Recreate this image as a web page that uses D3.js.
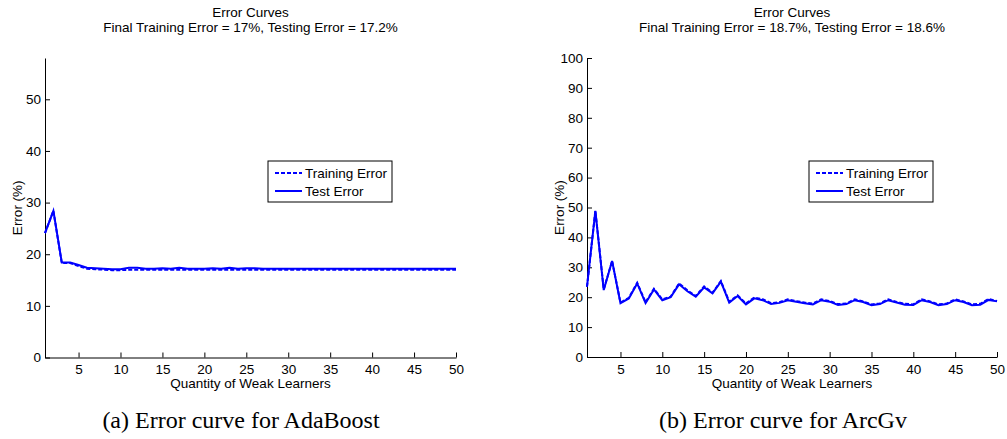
<!DOCTYPE html>
<html>
<head>
<meta charset="utf-8">
<script src="https://cdn.jsdelivr.net/npm/d3@7"></script>
<style>
  body { margin: 0; background: #fff; }
  svg text { font-family: "Liberation Sans", Arial, sans-serif; }
</style>
</head>
<body>
<div class="canvas"></div>
<script>
// weak learner counts 1..50
const learners = d3.range(1, 51);

// AdaBoost curves
const adaTrain = [
  24.1, 28.4, 18.3, 18.3, 17.7, 17.2, 17.1, 17.0, 16.9, 16.9,
  17.0, 17.0, 17.0, 17.0, 17.0, 17.0, 17.0, 17.0, 17.0, 17.0,
  17.0, 17.0, 17.0, 17.0, 17.0, 17.0, 17.0, 17.0, 17.0, 17.0,
  17.0, 17.0, 17.0, 17.0, 17.0, 17.0, 17.0, 17.0, 17.0, 17.0,
  17.0, 17.0, 17.0, 17.0, 17.0, 17.0, 17.0, 17.0, 17.0, 17.0
];
const adaTest = [
  24.1, 28.4, 18.4, 18.4, 17.9, 17.4, 17.3, 17.2, 17.1, 17.1,
  17.4, 17.4, 17.2, 17.2, 17.3, 17.2, 17.4, 17.2, 17.2, 17.2,
  17.3, 17.2, 17.4, 17.2, 17.3, 17.3, 17.2, 17.2, 17.2, 17.2,
  17.2, 17.2, 17.2, 17.2, 17.2, 17.2, 17.2, 17.2, 17.2, 17.2,
  17.2, 17.2, 17.2, 17.2, 17.2, 17.2, 17.2, 17.2, 17.2, 17.2
];

// ArcGv curves
const arcTrain = [
  23.5, 48.9, 22.6, 32.1, 18.2, 19.8, 24.8, 18.3, 22.8, 19.3,
  20.2, 24.6, 22.3, 20.4, 23.6, 21.5, 25.4, 18.5, 20.6, 17.9,
  19.9, 19.3, 18.0, 18.3, 19.3, 18.7, 18.2, 17.9, 19.3, 18.7,
  17.7, 17.9, 19.3, 18.6, 17.6, 17.9, 19.3, 18.4, 17.8, 17.6,
  19.3, 18.6, 17.6, 17.9, 19.3, 18.6, 17.6, 17.8, 19.4, 18.7
];
const arcTest = [
  23.5, 48.9, 22.4, 32.1, 18.0, 19.6, 24.6, 18.0, 22.6, 19.0,
  20.0, 24.3, 22.0, 20.2, 23.3, 21.3, 25.2, 18.2, 20.4, 17.6,
  19.6, 19.0, 17.7, 18.1, 19.0, 18.5, 18.0, 17.6, 19.0, 18.5,
  17.4, 17.7, 19.0, 18.4, 17.3, 17.7, 19.0, 18.2, 17.5, 17.4,
  19.0, 18.4, 17.3, 17.7, 19.0, 18.4, 17.3, 17.5, 19.1, 18.6
];

const xTicks = [5, 10, 15, 20, 25, 30, 35, 40, 45, 50];
const adaYTicks = [0, 10, 20, 30, 40, 50];
const arcYTicks = [0, 10, 20, 30, 40, 50, 60, 70, 80, 90, 100];
const seriesNames = ["Training Error", "Test Error"];

const panels = [
  {
    left: 45, right: 456, top: 58, bottom: 357.5, yMax: 58,
    yTicks: adaYTicks, train: adaTrain, test: adaTest,
    subtitle: "Final Training Error = 17%, Testing Error = 17.2%",
    caption: "(a) Error curve for AdaBoost",
    legend: { x: 268, y: 161 }, captionX: 241
  },
  {
    left: 587, right: 997, top: 58, bottom: 357, yMax: 100,
    yTicks: arcYTicks, train: arcTrain, test: arcTest,
    subtitle: "Final Training Error = 18.7%, Testing Error = 18.6%",
    caption: "(b) Error curve for ArcGv",
    legend: { x: 809, y: 161 }, captionX: 783
  }
];

const svg = d3
  .select(".canvas")
  .append("svg")
  .attr("width", 1007)
  .attr("height", 439);

const blue = "#0000ff";
const fs = 13.5;

const drawPanel = (p) => {
  const x = d3.scaleLinear().domain([1, 50]).range([p.left, p.right]);
  const y = d3.scaleLinear().domain([0, p.yMax]).range([p.bottom, p.top]);
  const g = svg.append("g");
  const cx = (p.left + p.right) / 2;

  // titles
  g.append("text")
    .attr("x", cx).attr("y", 17)
    .attr("text-anchor", "middle").attr("font-size", fs)
    .text("Error Curves");
  g.append("text")
    .attr("x", cx).attr("y", 32)
    .attr("text-anchor", "middle").attr("font-size", fs)
    .text(p.subtitle);

  // axes, ticks point inward like matlab
  const xAxis = g.append("g")
    .attr("transform", `translate(0,${p.bottom})`)
    .call(d3.axisBottom(x).tickValues(xTicks).tickSizeInner(-5).tickSizeOuter(0).tickPadding(7));
  const yAxis = g.append("g")
    .attr("transform", `translate(${p.left},0)`)
    .call(d3.axisLeft(y).tickValues(p.yTicks).tickSizeInner(-5).tickSizeOuter(0).tickPadding(9));
  [xAxis, yAxis].forEach((a) => {
    a.attr("font-size", fs).attr("font-family", null);
    a.select(".domain").attr("stroke", "#000");
    a.selectAll(".tick line").attr("stroke", "#000");
    a.selectAll("text").attr("fill", "#000");
  });
  yAxis.selectAll(".tick text").attr("x", -4);

  g.append("text")
    .attr("x", cx).attr("y", 388)
    .attr("text-anchor", "middle").attr("font-size", fs)
    .text("Quantity of Weak Learners");
  g.append("text")
    .attr("transform", `translate(${p.left - 23},${(p.top + p.bottom) / 2}) rotate(-90)`)
    .attr("text-anchor", "middle").attr("font-size", fs)
    .text("Error (%)");

  // curves
  const line = d3.line().x((d, i) => x(learners[i])).y((d) => y(d));
  g.append("path")
    .datum(p.train)
    .attr("d", line)
    .attr("fill", "none").attr("stroke", blue)
    .attr("stroke-width", 2).attr("stroke-dasharray", "4,2");
  g.append("path")
    .datum(p.test)
    .attr("d", line)
    .attr("fill", "none").attr("stroke", blue)
    .attr("stroke-width", 2);

  // legend
  const lg = g.append("g").attr("transform", `translate(${p.legend.x},${p.legend.y})`);
  lg.append("rect")
    .attr("width", 124).attr("height", 41)
    .attr("fill", "#fff").attr("stroke", "#000").attr("stroke-width", 1);
  seriesNames.forEach((name, i) => {
    const ly = 12 + i * 18;
    lg.append("line")
      .attr("x1", 7).attr("x2", 34).attr("y1", ly).attr("y2", ly)
      .attr("stroke", blue).attr("stroke-width", 2)
      .attr("stroke-dasharray", i === 0 ? "4,2" : null);
    lg.append("text")
      .attr("x", 37).attr("y", ly + 5)
      .attr("font-size", fs)
      .text(name);
  });

  // caption below
  svg.append("text")
    .attr("x", p.captionX).attr("y", 428)
    .attr("text-anchor", "middle")
    .attr("font-size", 24)
    .style("font-family", "'Liberation Serif', 'Times New Roman', serif")
    .text(p.caption);
};

panels.forEach(drawPanel);
</script>
</body>
</html>
